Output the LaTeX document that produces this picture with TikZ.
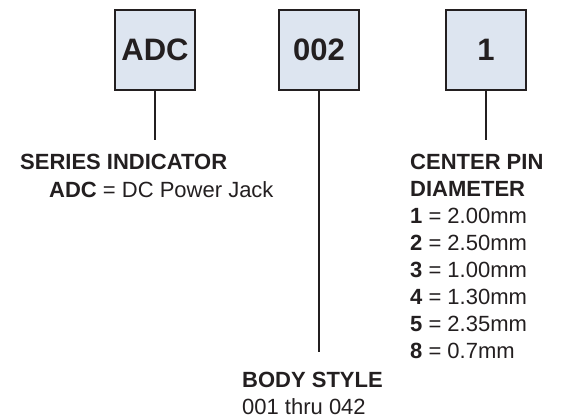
\documentclass[tikz,border=0pt]{standalone}
\usepackage{fontspec}
\setmainfont{Liberation Sans}
\definecolor{boxfill}{HTML}{DDE5F0}
\definecolor{ink}{HTML}{231F20}
\begin{document}
\begin{tikzpicture}[x=1pt,y=-1pt,
  codebox/.style={draw=ink,line width=1.3pt,fill=boxfill,minimum width=80pt,minimum height=80pt,inner sep=0pt,font=\fontsize{31}{31}\selectfont\bfseries,text=ink},
  lead/.style={draw=ink,line width=1.6pt},
  txt/.style={anchor=west,inner sep=0pt,font=\fontsize{22}{24}\selectfont,text=ink}]
\useasboundingbox (0,0) rectangle (561,418);
\node[codebox] (b1) at (155,50) {ADC};
\node[codebox] (b2) at (319,50) {002};
\node[codebox] (b3) at (486,50) {1};
\coordinate (e1) at (155,140);
\coordinate (e2) at (319,352);
\coordinate (e3) at (486,140);
\draw[lead] (b1.south) -- (e1);
\draw[lead] (b2.south) -- (e2);
\draw[lead] (b3.south) -- (e3);
\node[txt] (s1) at (20,162) {\bfseries SERIES INDICATOR};
\node[txt] (s2) at (49,190) {\bfseries ADC\mdseries{} = DC Power Jack};
\node[txt] (c1) at (410,162) {\bfseries CENTER PIN};
\node[txt] (c2) at (410,189) {\bfseries DIAMETER};
\node[txt] (c3) at (410,216) {\textbf{1} = 2.00mm};
\node[txt] (c4) at (410,243) {\textbf{2} = 2.50mm};
\node[txt] (c5) at (410,270) {\textbf{3} = 1.00mm};
\node[txt] (c6) at (410,297) {\textbf{4} = 1.30mm};
\node[txt] (c7) at (410,324) {\textbf{5} = 2.35mm};
\node[txt] (c8) at (410,351) {\textbf{8} = 0.7mm};
\node[txt] (d1) at (242,380) {\bfseries BODY STYLE};
\node[txt] (d2) at (242,407) {001 thru 042};
\end{tikzpicture}
\end{document}
